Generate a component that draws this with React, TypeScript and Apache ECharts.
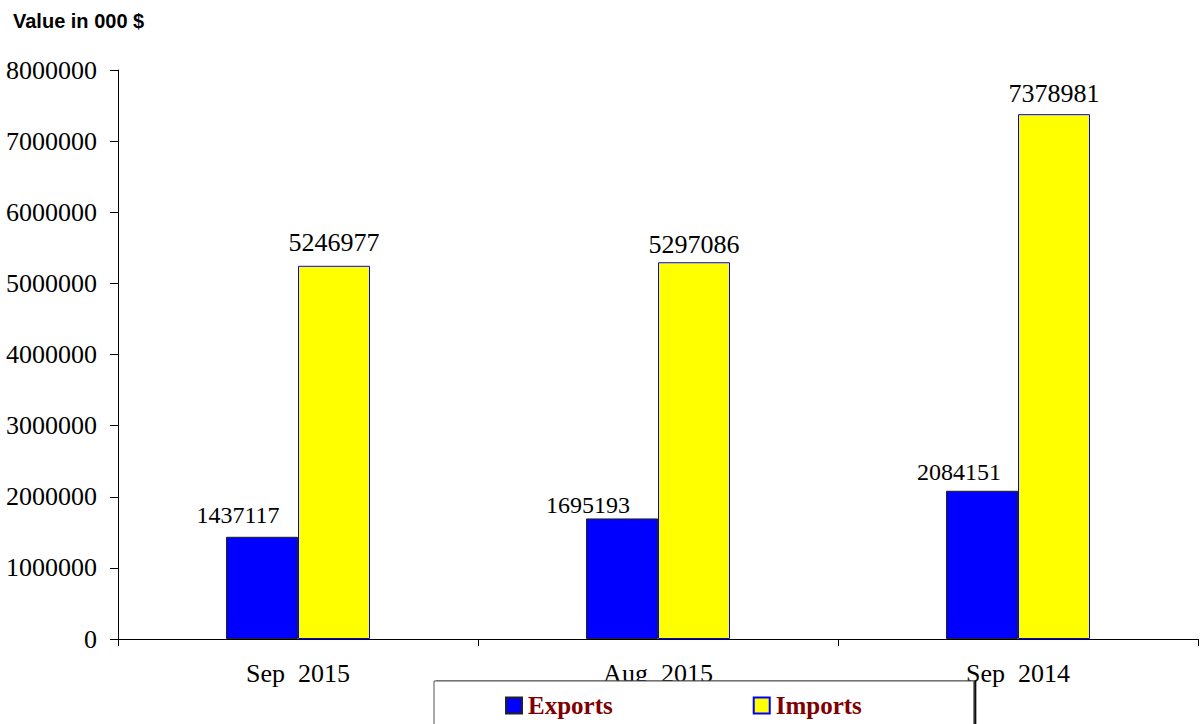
import React, { useEffect, useRef } from "react";
import * as echarts from "echarts";

const categories = ["Sep  2015", "Aug  2015", "Sep  2014"];
const exportsValues = [1437117, 1695193, 2084151];
const importsValues = [5246977, 5297086, 7378981];
const yTicks = { min: 0, max: 8000000, interval: 1000000 };

// label placement tweaks (style only)
const exportsLabelOffsets = [[-24, 0], [-34, 9], [-23, 3]];
const importsLabelOffsets = [[0, 0], [0, 5], [0, 2]];

export default function App() {
  const ref = useRef<HTMLDivElement>(null);
  useEffect(() => {
    if (!ref.current) return;
    const chart = echarts.init(ref.current, null, { renderer: "svg" });
    const serif = "'Liberation Serif', 'Times New Roman', serif";
    const mkLabel = (size: number) => ({
      show: true,
      position: "top",
      distance: 10,
      fontFamily: serif,
      fontSize: size,
      color: "#000",
    });
    chart.setOption({
      animation: false,
      backgroundColor: "#fff",
      title: {
        text: "Value in 000 $",
        left: 8,
        top: 6,
        textStyle: {
          fontFamily: "'Liberation Sans', Arial, sans-serif",
          fontWeight: "bold",
          fontSize: 20,
          color: "#000",
        },
      },
      grid: { left: 118, right: 3, top: 70, bottom: 85, containLabel: false },
      legend: {
        left: 434,
        top: 681,
        orient: "horizontal",
        padding: [12, 112, 20, 71],
        itemGap: 140,
        itemWidth: 16,
        itemHeight: 16,
        icon: "rect",
        borderColor: "#555",
        borderWidth: 1,
        backgroundColor: "#fff",
        shadowColor: "#000",
        shadowOffsetX: 2,
        shadowOffsetY: 0,
        shadowBlur: 0,
        textStyle: {
          fontFamily: serif,
          fontWeight: "bold",
          fontSize: 25,
          color: "#800000",
          padding: [0, 0, 0, 1],
        },
        data: ["Exports", "Imports"],
      },
      xAxis: {
        type: "category",
        data: categories,
        axisLine: { lineStyle: { color: "#000", width: 1 } },
        axisTick: { show: true, length: 7, lineStyle: { color: "#000" } },
        axisLabel: {
          margin: 21,
          fontFamily: serif,
          fontSize: 26,
          color: "#000",
        },
        splitLine: { show: false },
      },
      yAxis: {
        type: "value",
        min: yTicks.min,
        max: yTicks.max,
        interval: yTicks.interval,
        axisLine: { show: true, lineStyle: { color: "#000", width: 1 } },
        axisTick: { show: true, length: 8, lineStyle: { color: "#000" } },
        axisLabel: {
          margin: 21,
          fontFamily: serif,
          fontSize: 26,
          color: "#000",
          formatter: (v: number) => String(v),
        },
        splitLine: { show: false },
      },
      series: [
        {
          name: "Exports",
          type: "bar",
          data: exportsValues.map((v, i) => ({
            value: v,
            label: { offset: exportsLabelOffsets[i] },
          })),
          barWidth: 72,
          barGap: "0%",
          itemStyle: { color: "#0000ff", borderColor: "#222", borderWidth: 1 },
          label: mkLabel(24),
        },
        {
          name: "Imports",
          type: "bar",
          data: importsValues.map((v, i) => ({
            value: v,
            label: { offset: importsLabelOffsets[i] },
          })),
          barWidth: 72,
          barGap: "0%",
          itemStyle: { color: "#ffff00", borderColor: "#0000ff", borderWidth: 1 },
          label: mkLabel(26),
        },
      ],
    });
    return () => chart.dispose();
  }, []);
  return (
    <div
      ref={ref}
      style={{ position: "fixed", left: 0, top: 0, width: 1201, height: 724 }}
    />
  );
}
